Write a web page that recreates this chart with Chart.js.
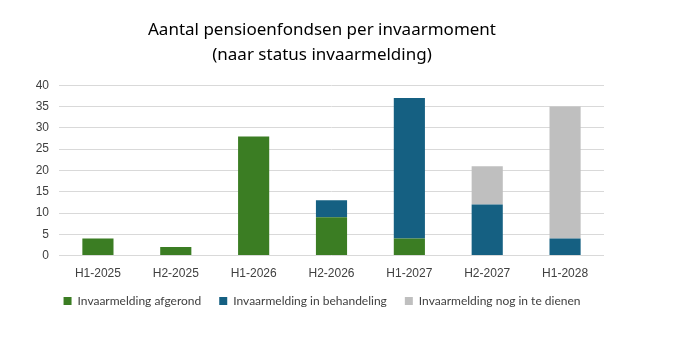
<!DOCTYPE html>
<html>
<head>
<meta charset="utf-8">
<script src="https://cdn.jsdelivr.net/npm/chart.js@4"></script>
<style>
  body { margin: 0; background: #fff; }
  #wrap { width: 691px; height: 339px; }
</style>
</head>
<body>
<div id="wrap"><canvas id="invaarChart" width="691" height="339"></canvas></div>
<script>
const labels = ['H1-2025', 'H2-2025', 'H1-2026', 'H2-2026', 'H1-2027', 'H2-2027', 'H1-2028'];
const afgerond = [4, 2, 28, 9, 4, 0, 0];
const inBehandeling = [0, 0, 0, 4, 33, 12, 4];
const nogInTeDienen = [0, 0, 0, 0, 0, 9, 31];
const yMax = 40;
const yStep = 5;

const titleFont = "'Noto Sans', 'DejaVu Sans', sans-serif";
const legendFont = "Lato, 'Noto Sans', sans-serif";
const tickFont = "'Liberation Sans', Arial, sans-serif";

// pull the legend up closer to the axis labels
const legendShift = {
  id: 'legendShift',
  afterLayout(chart) {
    if (chart.legend) {
      chart.legend.top -= 15;
      chart.legend.bottom -= 15;
    }
  }
};

let context = document.getElementById('invaarChart').getContext('2d');
new Chart(context, {
  type: 'bar',
  data: {
    labels: labels,
    datasets: [{
        label: 'Invaarmelding afgerond',
        data: afgerond,
        backgroundColor: '#3b7d23',
      },
      {
        label: 'Invaarmelding in behandeling',
        data: inBehandeling,
        backgroundColor: '#156082',
      },
      {
        label: 'Invaarmelding nog in te dienen',
        data: nogInTeDienen,
        backgroundColor: '#bfbfbf',
      },
    ],
  },
  options: {
    responsive: false,
    animation: false,
    categoryPercentage: 1,
    barPercentage: 0.4,
    layout: { padding: { left: 20, right: 67, top: 0, bottom: 7 } },
    scales: {
      x: {
        stacked: true,
        grid: { display: false, drawTicks: false },
        border: { display: false },
        ticks: { color: '#404040', font: { family: tickFont, size: 12 }, padding: 11 },
      },
      y: {
        stacked: true,
        min: 0,
        max: yMax,
        afterFit: (scale) => { scale.width = 39; },
        grid: { color: '#d9d9d9', lineWidth: 1, drawTicks: false },
        border: { display: false },
        ticks: { stepSize: yStep, autoSkip: false, color: '#404040', font: { family: tickFont, size: 12 }, padding: 10 },
      },
      spacer: {
        position: 'right',
        afterFit: (scale) => { scale.width = 20; },
        grid: { display: false, drawTicks: false },
        border: { display: false },
        ticks: { display: false },
      },
    },
    plugins: {
      title: {
        display: true,
        text: ['Aantal pensioenfondsen per invaarmoment', '(naar status invaarmelding)'],
        color: '#000',
        font: { family: titleFont, size: 17, weight: 'normal', lineHeight: 1.45 },
        padding: { top: 18, bottom: 18 },
      },
      legend: {
        position: 'bottom',
        labels: {
          color: '#404040',
          font: { family: legendFont, size: 12 },
          boxWidth: 8,
          boxHeight: 8,
          padding: 18,
        },
      },
      tooltip: { enabled: false },
    },
  },
  plugins: [legendShift],
});
</script>
</body>
</html>
